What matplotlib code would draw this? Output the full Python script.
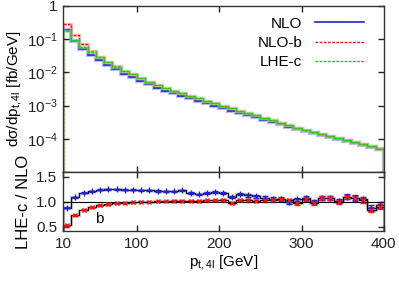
import numpy as np
import matplotlib
matplotlib.use("Agg")
import matplotlib.pyplot as plt

plt.rcParams['font.family'] = ['Liberation Sans', 'DejaVu Sans']
plt.rcParams['mathtext.fontset'] = 'custom'
plt.rcParams['mathtext.rm'] = 'Liberation Sans'
plt.rcParams['mathtext.it'] = 'Liberation Sans'

# bin edges 10..400 GeV, 10 GeV wide
edges = np.arange(10, 401, 10)
centers = edges[:-1] + 5

nlo = [0.193, 0.0871, 0.0490, 0.0324, 0.0229, 0.0162, 0.0123, 0.00912, 0.00724,
       0.00562, 0.00437, 0.00347, 0.00282, 0.00234, 0.00200, 0.00166, 0.00138,
       0.00117, 0.00100, 8.32e-4, 7.08e-4, 6.03e-4, 5.13e-4, 4.37e-4, 3.72e-4,
       3.16e-4, 2.69e-4, 2.29e-4, 1.95e-4, 1.70e-4, 1.45e-4, 1.26e-4, 1.10e-4,
       9.55e-5, 8.32e-5, 7.24e-5, 6.31e-5, 5.50e-5, 4.79e-5]
nlo_b = [0.29, 0.129, 0.070, 0.0437, 0.0289, 0.0199, 0.0150, 0.0109, 0.00869,
         0.00674, 0.00524, 0.00416, 0.00338, 0.00281, 0.00236, 0.00196, 0.00163,
         0.00138, 0.00117, 9.73e-4, 8.21e-4, 7.0e-4, 5.9e-4, 5.03e-4, 4.24e-4,
         3.57e-4, 3.01e-4, 2.52e-4, 2.15e-4, 1.87e-4, 1.6e-4, 1.39e-4, 1.19e-4,
         1.03e-4, 8.99e-5, 7.75e-5, 6.75e-5, 6.05e-5, 5.03e-5]
lhe_c = [0.175, 0.097, 0.059, 0.040, 0.0281, 0.0198, 0.0149, 0.0110, 0.0087,
         0.0068, 0.00526, 0.00418, 0.0034, 0.00282, 0.00238, 0.00197, 0.00164,
         0.00139, 0.00118, 9.8e-4, 8.25e-4, 7.05e-4, 5.95e-4, 5.05e-4, 4.28e-4,
         3.6e-4, 3.03e-4, 2.54e-4, 2.17e-4, 1.88e-4, 1.6e-4, 1.4e-4, 1.2e-4,
         1.04e-4, 9.0e-5, 7.8e-5, 6.8e-5, 5.85e-5, 5.0e-5]

# ratio panel
r_nlo = [0.88, 1.09, 1.18, 1.21, 1.24, 1.25, 1.25, 1.24, 1.24, 1.23, 1.23, 1.22,
         1.21, 1.21, 1.23, 1.18, 1.15, 1.18, 1.20, 1.18, 1.10, 1.16, 1.13, 1.11,
         1.08, 1.06, 1.06, 0.99, 1.05, 1.07, 1.00, 1.08, 1.08, 1.02, 1.10, 1.08,
         1.05, 0.88, 0.93]
r_nlo_err = [0.01, 0.01, 0.01, 0.01, 0.01, 0.01, 0.01, 0.01, 0.01, 0.01, 0.01, 0.012,
             0.012, 0.012, 0.015, 0.015, 0.015, 0.018, 0.018, 0.02, 0.02, 0.025, 0.025,
             0.025, 0.03, 0.03, 0.03, 0.035, 0.035, 0.04, 0.04, 0.04, 0.045, 0.045,
             0.05, 0.05, 0.05, 0.06, 0.06]
r_nlo_b = [0.53, 0.73, 0.84, 0.89, 0.93, 0.95, 0.97, 0.98, 0.99, 1.00, 1.00, 1.01,
           1.01, 1.02, 1.02, 1.02, 1.02, 1.03, 1.03, 1.03, 0.98, 1.03, 1.03, 1.02,
           1.03, 1.03, 1.05, 1.03, 0.97, 1.05, 0.98, 1.07, 1.07, 0.99, 1.10, 1.07,
           1.03, 0.84, 0.90]
r_nlo_b_err = [0.01, 0.01, 0.01, 0.01, 0.01, 0.01, 0.01, 0.01, 0.01, 0.01, 0.01, 0.012,
               0.012, 0.012, 0.015, 0.015, 0.015, 0.018, 0.018, 0.02, 0.02, 0.02, 0.025,
               0.025, 0.025, 0.03, 0.03, 0.03, 0.035, 0.035, 0.035, 0.04, 0.04, 0.04,
               0.045, 0.045, 0.05, 0.05, 0.05]

fig = plt.figure(figsize=(3.99, 2.81), dpi=100)
ax1 = fig.add_axes([0.158, 0.388, 0.804, 0.591])
ax2 = fig.add_axes([0.158, 0.178, 0.804, 0.210])

blue = '#2020d0'
red = '#ff1010'
green = '#00e000'

ax1.stairs(nlo, edges, color='#9090e8', linewidth=3.0, alpha=0.6)
ax1.stairs(nlo, edges, color=blue, linewidth=1.2, label='NLO')
ax1.stairs(nlo_b, edges, color='#ff9090', linewidth=2.5, alpha=0.5)
ax1.stairs(nlo_b, edges, color=red, linewidth=1.0, linestyle=(0, (2, 1)), label='NLO-b')
ax1.stairs(lhe_c, edges, color='#90f090', linewidth=2.5, alpha=0.5)
ax1.stairs(lhe_c, edges, color=green, linewidth=1.0, linestyle=(0, (2, 1)), label='LHE-c')
ax1.set_yscale('log')
ax1.set_ylim(1e-5, 1)
ax1.set_xlim(10, 400)
ax1.set_yticks([1e-5, 1e-4, 1e-3, 1e-2, 1e-1, 1])
ax1.set_yticklabels(['', r'$10^{-4}$', r'$10^{-3}$', r'$10^{-2}$', r'$10^{-1}$', '1'])
ax1.yaxis.set_minor_locator(matplotlib.ticker.NullLocator())
ax1.set_xticks([100, 200, 300])
ax1.set_xticklabels([])
ax1.set_ylabel(r'd$\sigma$/dp$_{\rm t,4l}$ [fb/GeV]', fontsize=11, labelpad=2)
ax1.legend(loc='upper right', frameon=False, markerfirst=False, fontsize=11,
           handlelength=3.2, handletextpad=0.8, labelspacing=0.35,
           borderaxespad=0.3, bbox_to_anchor=(0.97, 1.0))

ax2.stairs(r_nlo, edges, color='#d8d8d8', linewidth=2.2)
ax2.stairs(r_nlo_b, edges, color='#d8d8d8', linewidth=2.2)
ax2.stairs(r_nlo, edges, color='black', linewidth=0.9)
ax2.stairs(r_nlo_b, edges, color='black', linewidth=0.9)
ax2.errorbar(centers, r_nlo, yerr=r_nlo_err, fmt='+', color=blue, markersize=4,
             elinewidth=1, capsize=2, markeredgewidth=1)
ax2.errorbar(centers, r_nlo_b, yerr=r_nlo_b_err, fmt='x', color=red, markersize=3,
             elinewidth=1, capsize=2, markeredgewidth=1)
ax2.axhline(1.0, color='black', linewidth=0.8)
ax2.text(54, 0.65, 'b', fontsize=11, ha='center', va='center')
ax2.set_xlim(10, 400)
ax2.set_ylim(0.42, 1.6)
ax2.set_yticks([0.5, 1.0, 1.5])
ax2.set_yticklabels(['0.5', '1.0', '1.5'])
ax2.set_xticks([10, 100, 200, 300, 400])
ax2.set_xlabel(r'p$_{\rm t,4l}$ [GeV]', fontsize=11, labelpad=2)
ax2.set_ylabel('LHE-c / NLO', fontsize=12, labelpad=4)

for ax in (ax1, ax2):
    ax.tick_params(direction='in', top=True, right=True, labelsize=11, length=4,
                   width=1, colors='#222222', pad=4)
    ax.tick_params(axis='y', which='minor', length=0)
    for s in ax.spines.values():
        s.set_color('#333333')
        s.set_linewidth(1.0)
    ax.tick_params(axis='x', which='minor', length=0)

fig.savefig('out.png', dpi=100)
